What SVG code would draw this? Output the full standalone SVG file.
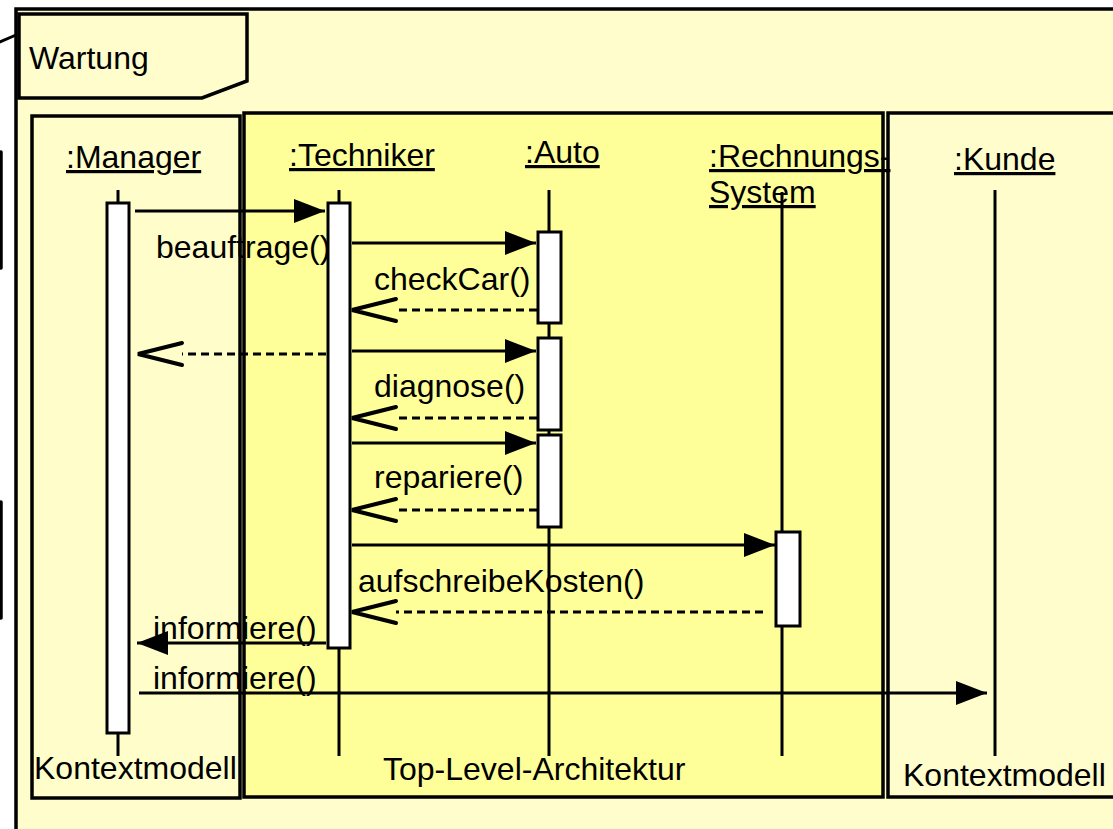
<svg xmlns="http://www.w3.org/2000/svg" width="1113" height="829" viewBox="0 0 1113 829">
<style>
text{font-family:"Liberation Sans",Arial,sans-serif;font-size:32px;fill:#000}
.u{text-decoration:underline}
.frame{stroke:#000;stroke-width:3.5}
.border{fill:none;stroke:#000;stroke-width:3.5}
.life{stroke:#000;stroke-width:3}
.act{fill:#fff;stroke:#000;stroke-width:3}
.msg{stroke:#000;stroke-width:3;fill:none}
.ret{stroke:#000;stroke-width:3;fill:none;stroke-dasharray:8 5}
</style>
<defs>
<marker id="filled" markerUnits="userSpaceOnUse" viewBox="0 -12 31 24" refX="31" refY="0" markerWidth="31" markerHeight="24" orient="auto">
<path d="M0,-12 L31,0 L0,12 z" fill="#000"/>
</marker>
<marker id="open" markerUnits="userSpaceOnUse" viewBox="-3 -14 50 28" refX="0" refY="0" markerWidth="50" markerHeight="28" orient="auto" overflow="visible">
<path d="M0,-11 L44,0 L0,11" fill="none" stroke="#000" stroke-width="4" stroke-linecap="round" stroke-linejoin="miter"/>
</marker>
</defs>
<rect width="1113" height="829" fill="#fff"/>
<g id="outside-marks" stroke="#000" stroke-width="3.5" stroke-linecap="round">
<line x1="1" y1="152" x2="1" y2="268"/>
<line x1="1" y1="502" x2="1" y2="618"/>
<line x1="0" y1="42" x2="16" y2="35" stroke-width="3"/>
</g>
<g id="frames">
<rect class="frame" x="16" y="9" width="1112" height="840" fill="#FFFDCC"/>
<g id="wartung-tab">
<polygon class="frame" points="19,14 247,14 247,81 202,98 19,98" fill="#FFFDCC"/>
<text x="29" y="69">Wartung</text>
</g>
<rect x="32" y="116" width="208" height="682" fill="#FFFECB"/>
<rect x="244" y="113" width="639" height="684" fill="#FFFF99"/>
<rect x="888" y="113" width="240" height="684" fill="#FFFDCC"/>
</g>
<g id="frame-labels">
<text x="34" y="779">Kontextmodell</text>
<text x="383" y="780">Top-Level-Architektur</text>
<text x="903" y="786">Kontextmodell</text>
</g>
<g id="labels">
<text x="156" y="258">beauftrage()</text>
<text x="374" y="290">checkCar()</text>
<text x="374" y="397">diagnose()</text>
<text x="374" y="488">repariere()</text>
<text x="358" y="592">aufschreibeKosten()</text>
<text x="153" y="639">informiere()</text>
<text x="153" y="689">informiere()</text>
</g>
<g id="manager">
<text class="u" x="66" y="168">:Manager</text>
<line class="life" x1="118" y1="190" x2="118" y2="756"/>
<rect class="act" x="107" y="203" width="22" height="530"/>
</g>
<g id="techniker">
<text class="u" x="289" y="166">:Techniker</text>
<line class="life" x1="339" y1="190" x2="339" y2="756"/>
<rect class="act" x="328" y="203" width="22" height="445"/>
</g>
<g id="auto">
<text class="u" x="525" y="163">:Auto</text>
<line class="life" x1="549" y1="190" x2="549" y2="756"/>
<rect class="act" x="538" y="232" width="23" height="91"/>
<rect class="act" x="538" y="338" width="23" height="92"/>
<rect class="act" x="538" y="435" width="23" height="92"/>
</g>
<g id="rechnungssystem">
<text class="u" x="709" y="167">:Rechnungs-</text>
<text class="u" x="709" y="203">System</text>
<line class="life" x1="782" y1="192" x2="782" y2="756"/>
<rect class="act" x="776" y="532" width="24" height="94"/>
</g>
<g id="kunde">
<text class="u" x="954" y="170">:Kunde</text>
<line class="life" x1="995" y1="190" x2="995" y2="756"/>
</g>
<g id="connectors">
<path class="msg" d="M135,211 L325,211" marker-end="url(#filled)"/>
<path class="msg" d="M352,243 L536,243" marker-end="url(#filled)"/>
<path class="ret" d="M537,310 L396,310" marker-end="url(#open)"/>
<path class="ret" d="M326,354 L182,354" marker-end="url(#open)"/>
<path class="msg" d="M352,351 L536,351" marker-end="url(#filled)"/>
<path class="ret" d="M537,418 L396,418" marker-end="url(#open)"/>
<path class="msg" d="M352,443 L536,443" marker-end="url(#filled)"/>
<path class="ret" d="M537,510 L396,510" marker-end="url(#open)"/>
<path class="msg" d="M352,545 L775,545" marker-end="url(#filled)"/>
<path class="ret" d="M763,612 L396,612" marker-end="url(#open)"/>
<path class="msg" d="M326,643 L137,643" marker-end="url(#filled)"/>
<path class="msg" d="M139,693 L987,693" marker-end="url(#filled)"/>
</g>
<g id="frame-borders">
<rect class="border" x="32" y="116" width="208" height="682"/>
<rect class="border" x="244" y="113" width="639" height="684"/>
<rect class="border" x="888" y="113" width="240" height="684"/>
</g>
</svg>
